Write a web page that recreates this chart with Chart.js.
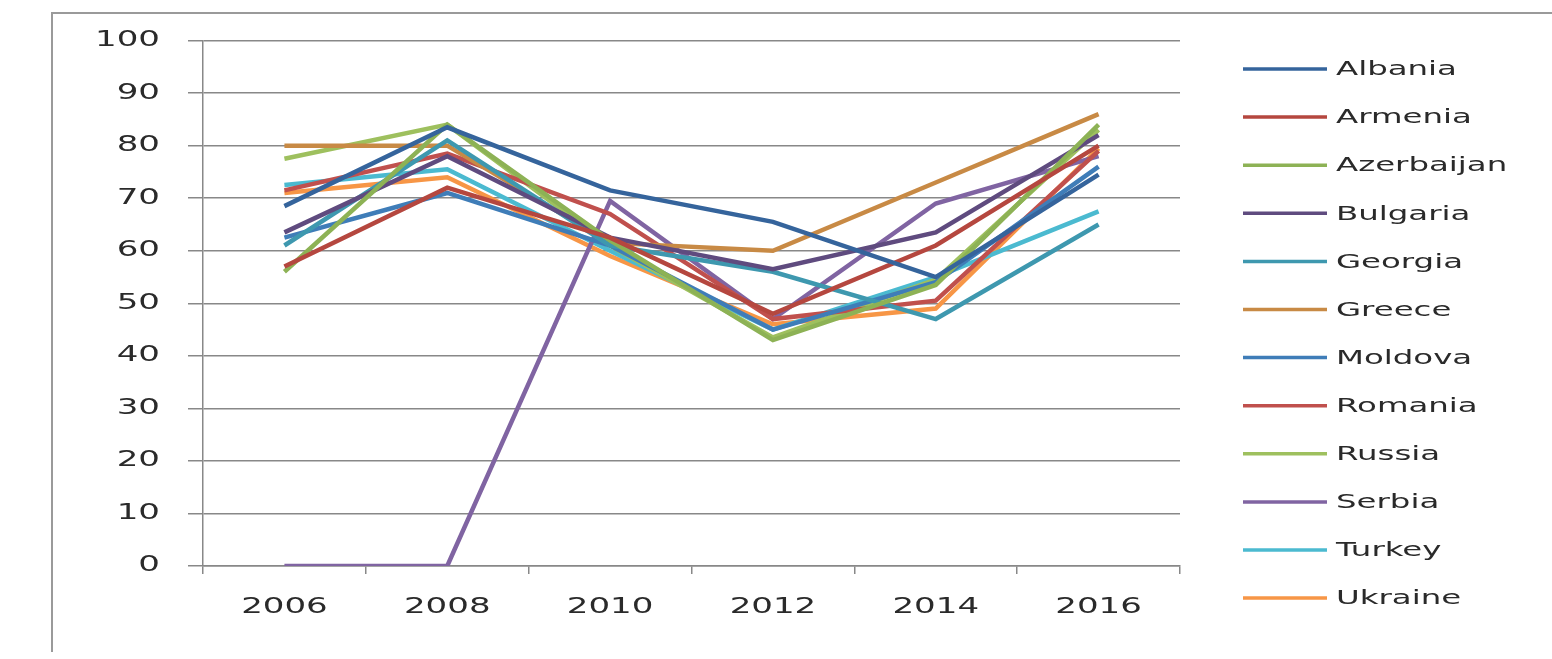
<!DOCTYPE html>
<html>
<head>
<meta charset="utf-8">
<script src="https://cdn.jsdelivr.net/npm/chart.js@4.4.1/dist/chart.umd.min.js"></script>
<style>
  html, body { margin: 0; padding: 0; background: #ffffff; }
  #wrap { width: 1552px; height: 659px; position: relative; }
</style>
</head>
<body>
<div id="wrap"><canvas id="c" width="1552" height="659"></canvas></div>
<script>
const categories = ['2006', '2008', '2010', '2012', '2014', '2016'];
const yTicks = [0, 10, 20, 30, 40, 50, 60, 70, 80, 90, 100];

const albania    = [68.5, 83.5, 71.5, 65.5, 55.0, 74.5];
const armenia    = [57.0, 72.0, 62.5, 48.0, 61.0, 80.0];
const azerbaijan = [56.0, 84.0, 62.0, 43.0, 53.5, 84.0];
const bulgaria   = [63.5, 78.0, 62.5, 56.5, 63.5, 82.0];
const georgia    = [61.0, 81.0, 61.0, 56.0, 47.0, 65.0];
const greece     = [80.0, 80.0, 61.5, 60.0, 73.0, 86.0];
const moldova    = [62.5, 71.0, 61.0, 45.0, 54.0, 76.0];
const romania    = [71.5, 78.5, 67.0, 47.0, 50.5, 79.0];
const russia     = [77.5, 84.0, 61.0, 43.5, 54.5, 83.0];
const serbia     = [0.0, 0.0, 69.5, 47.0, 69.0, 78.0];
const turkey     = [72.5, 75.5, 60.0, 45.0, 55.0, 67.5];
const ukraine    = [71.0, 74.0, 59.0, 46.0, 49.0, 79.5];

const seriesNames = ['Albania', 'Armenia', 'Azerbaijan', 'Bulgaria', 'Georgia', 'Greece',
                     'Moldova', 'Romania', 'Russia', 'Serbia', 'Turkey', 'Ukraine'];
const seriesValues = [albania, armenia, azerbaijan, bulgaria, georgia, greece,
                      moldova, romania, russia, serbia, turkey, ukraine];
const seriesColors = ['#35649C', '#B5473F', '#8DB255', '#5F4B7F', '#3E98AF', '#C88A45',
                      '#3F7DB8', '#C0504D', '#9EC05E', '#8064A2', '#4BBAD0', '#F79646'];

const FONT = '"DejaVu Sans", Verdana, sans-serif';
const STRETCH = 1.62;

// Wide text look: draw every text run horizontally stretched around its anchor.
const canvas = document.getElementById('c');
const ctx2d = canvas.getContext('2d');
const origFillText = ctx2d.fillText.bind(ctx2d);
ctx2d.fillText = function (text, x, y, maxWidth) {
  this.save();
  this.translate(x, y);
  this.scale(STRETCH, 1);
  origFillText(text, 0, 0);
  this.restore();
};

const framePlugin = {
  id: 'frame',
  beforeDraw(chart) {
    const ctx = chart.ctx;
    ctx.save();
    ctx.fillStyle = '#ffffff';
    ctx.fillRect(0, 0, chart.width, chart.height);
    ctx.strokeStyle = '#9a9a9a';
    ctx.lineWidth = 2;
    ctx.beginPath();
    ctx.moveTo(52, chart.height - 7);
    ctx.lineTo(52, 13);
    ctx.lineTo(chart.width, 13);
    ctx.stroke();
    ctx.restore();
  }
};

const legendPlugin = {
  id: 'customLegend',
  afterDraw(chart) {
    const ctx = chart.ctx;
    const area = chart.chartArea;
    const x0 = area.right + 63;
    const x1 = x0 + 84;
    const top = 69;
    const step = 48.1;
    ctx.save();
    ctx.font = '20px ' + FONT;
    ctx.textBaseline = 'middle';
    ctx.textAlign = 'left';
    chart.data.datasets.forEach((ds, i) => {
      const y = top + i * step;
      ctx.strokeStyle = ds.borderColor;
      ctx.lineWidth = 3.5;
      ctx.beginPath();
      ctx.moveTo(x0, y);
      ctx.lineTo(x1, y);
      ctx.stroke();
      ctx.fillStyle = '#2a2a2a';
      ctx.fillText(ds.label, x1 + 9, y + 1);
    });
    ctx.restore();
  }
};

const datasets = seriesNames.map((name, i) => ({
  label: name,
  data: seriesValues[i],
  borderColor: seriesColors[i],
  backgroundColor: seriesColors[i],
  borderWidth: 4.5,
  pointRadius: 0,
  pointHoverRadius: 0,
  tension: 0,
  fill: false
}));

new Chart(canvas, {
  type: 'line',
  data: { labels: categories, datasets: datasets },
  plugins: [framePlugin, legendPlugin],
  options: {
    responsive: false,
    animation: false,
    devicePixelRatio: 1,
    layout: { padding: { left: 0, top: 39, right: 372, bottom: 33 } },
    plugins: {
      legend: { display: false },
      tooltip: { enabled: false },
      title: { display: false }
    },
    scales: {
      x: {
        type: 'category',
        offset: true,
        afterFit(scale) { scale.height = 60; },
        grid: {
          display: true,
          drawOnChartArea: false,
          drawTicks: true,
          tickLength: 8,
          color: '#888888',
          lineWidth: 1.5,
          offset: true
        },
        border: { display: true, color: '#888888', width: 1.5 },
        ticks: {
          color: '#2a2a2a',
          font: { family: FONT, size: 21 },
          padding: 21,
          maxRotation: 0,
          autoSkip: false
        }
      },
      y: {
        min: 0,
        max: 100,
        afterFit(scale) { scale.width = 203; },
        afterBuildTicks(scale) { scale.ticks = yTicks.map(v => ({ value: v })); },
        grid: {
          color: '#888888',
          lineWidth: 1.5,
          tickLength: 15,
          drawTicks: true
        },
        border: { display: true, color: '#888888', width: 1.5 },
        ticks: {
          color: '#2a2a2a',
          font: { family: FONT, size: 21 },
          padding: 28
        }
      }
    }
  }
});
</script>
</body>
</html>
